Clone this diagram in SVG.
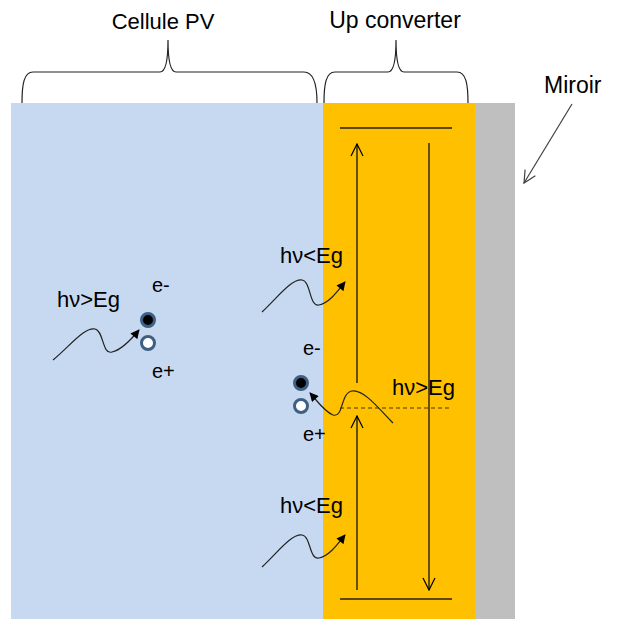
<svg xmlns="http://www.w3.org/2000/svg" width="622" height="619" viewBox="0 0 622 619">
<defs>
<style>
text{font-family:"Liberation Sans",Arial,sans-serif;font-size:22px;fill:#000}
.small{font-size:20px}
.wide{font-size:23px}
.brace{fill:none;stroke:#222;stroke-width:1.2}
.wave{fill:none;stroke:#222;stroke-width:1.2}
.level{stroke:#5c4800;stroke-width:2}
.vline{stroke:#000;stroke-width:1.2}
.dash{stroke:#4a3a00;stroke-width:1.2;stroke-dasharray:4 3}
.carrier{stroke:#3f5f82;stroke-width:3}
</style>
<marker id="tri" viewBox="0 0 10 10" refX="9" refY="5" markerWidth="10" markerHeight="9" markerUnits="userSpaceOnUse" orient="auto">
<path d="M0,0 L10,5 L0,10 Z" fill="#000"/>
</marker>
<marker id="vhead" viewBox="0 0 14 14" refX="13" refY="7" markerWidth="14" markerHeight="14" markerUnits="userSpaceOnUse" orient="auto">
<path d="M1,1 L13,7 L1,13" fill="none" stroke="#000" stroke-width="1.2"/>
</marker>
<marker id="ghead" viewBox="0 0 14 14" refX="13" refY="7" markerWidth="14" markerHeight="14" markerUnits="userSpaceOnUse" orient="auto">
<path d="M1,1 L13,7 L1,13" fill="none" stroke="#404040" stroke-width="1.2"/>
</marker>
</defs>
<rect width="622" height="619" fill="#fff"/>
<g id="cellule-pv">
<rect x="11" y="103" width="312" height="516" fill="#c6d9f1"/>
</g>
<g id="up-converter">
<rect x="323" y="103" width="152" height="516" fill="#ffc000"/>
<line class="level" x1="340" y1="128" x2="452" y2="128"/>
<line class="level" x1="340" y1="599" x2="452" y2="599"/>
<line class="dash" x1="340" y1="408" x2="452" y2="408"/>
</g>
<g id="miroir">
<rect x="475" y="103" width="40" height="516" fill="#bfbfbf"/>
</g>
<g id="labels">
<path class="brace" d="M22,103 C22,84 24,72 33,72 L160,72 C165,72 168,62 168,40 C168,62 171,72 176,72 L304,72 C313,72 317,84 317,103"/>
<path class="brace" d="M324,103 C324,84 326,72 335,72 L388,72 C393,72 396,62 396,40 C396,62 399,72 404,72 L457,72 C466,72 468,84 468,103"/>
<text x="163" y="29" text-anchor="middle">Cellule PV</text>
<text class="wide" x="395" y="28" text-anchor="middle">Up converter</text>
<text class="wide" x="544" y="93">Miroir</text>
</g>
<g id="pair-left">
<circle class="carrier" cx="148" cy="320" r="6.5" fill="#000"/>
<circle class="carrier" cx="148" cy="343" r="6.5" fill="#fff"/>
<text class="small" x="152" y="292">e-</text>
<text class="small" x="152" y="378">e+</text>
<text x="57" y="307">hν&gt;Eg</text>
</g>
<g id="pair-middle">
<circle class="carrier" cx="301" cy="383" r="6.5" fill="#000"/>
<circle class="carrier" cx="301" cy="406" r="6.5" fill="#fff"/>
<text class="small" x="303" y="355">e-</text>
<text class="small" x="303" y="441">e+</text>
<text x="392" y="395">hν&gt;Eg</text>
</g>
<g id="photon-upper">
<text x="280" y="263">hν&lt;Eg</text>
</g>
<g id="photon-lower">
<text x="280" y="513">hν&lt;Eg</text>
</g>
<g id="connectors">
<path class="wave" marker-end="url(#tri)" d="M53,360 C70,346 84,327 95,329 C104,331 102,355 112,352 C121,350 130,341 139,330"/>
<path class="wave" marker-end="url(#tri)" d="M262,312 C278,297 291,279 302,280 C311,281 309,307 319,305 C329,303 337,292 345,282"/>
<path class="wave" marker-end="url(#tri)" d="M262,567 C278,552 291,534 302,535 C311,536 309,560 319,558 C329,556 337,545 345,535"/>
<path class="wave" marker-end="url(#tri)" d="M393,423 C380,410 364,389 352,391 C340,393 344,418 333,415 C325,412 318,402 310,393"/>
<line class="vline" marker-end="url(#vhead)" x1="357" y1="383" x2="357" y2="144"/>
<line class="vline" marker-end="url(#vhead)" x1="357" y1="590" x2="357" y2="416"/>
<line class="vline" marker-end="url(#vhead)" x1="429" y1="143" x2="429" y2="590"/>
<line stroke="#404040" stroke-width="1.2" marker-end="url(#ghead)" x1="572" y1="104" x2="524" y2="183"/>
</g>
</svg>
